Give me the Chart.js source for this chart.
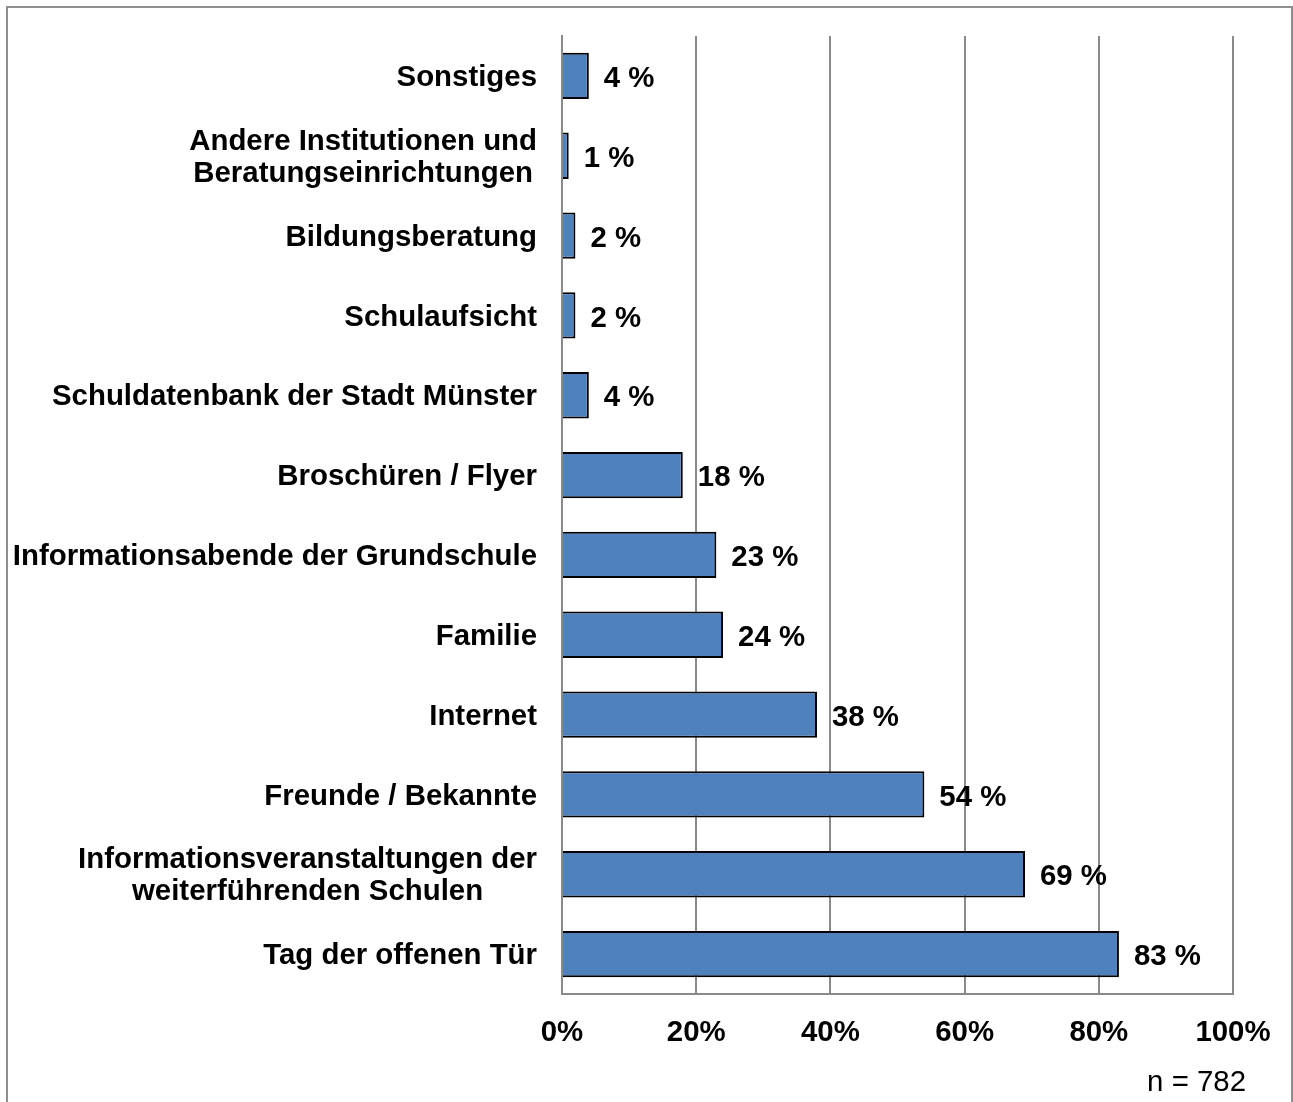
<!DOCTYPE html>
<html lang="de">
<head>
<meta charset="utf-8">
<title>Informationsquellen</title>
<script src="https://cdn.jsdelivr.net/npm/chart.js@4/dist/chart.umd.min.js"></script>
<style>
  html, body { margin: 0; padding: 0; background: #fff; overflow: hidden; }
  #wrap { position: relative; width: 1293px; height: 1102px; }
  #frame {
    position: absolute; left: 6px; top: 6px;
    width: 1283px; height: 1200px;
    border: 2px solid #8e8e8e; box-sizing: content-box;
    pointer-events: none;
  }
  #c { position: absolute; left: 0; top: 0; }
</style>
</head>
<body>
<div id="wrap">
  <div id="frame"></div>
  <canvas id="c" width="1293" height="1102"></canvas>
</div>
<script>
// Categories, top to bottom (multi-line labels as arrays)
const categories = [
  'Sonstiges',
  ['Andere Institutionen und', 'Beratungseinrichtungen'],
  'Bildungsberatung',
  'Schulaufsicht',
  'Schuldatenbank der Stadt Münster',
  'Broschüren / Flyer',
  'Informationsabende der Grundschule',
  'Familie',
  'Internet',
  'Freunde / Bekannte',
  ['Informationsveranstaltungen der', 'weiterführenden Schulen'],
  'Tag der offenen Tür'
];

// Share of respondents in percent
const shares = [4, 1, 2, 2, 4, 18, 23, 24, 38, 54, 69, 83];

// Axis ticks in percent
const axisTicks = [0, 20, 40, 60, 80, 100];

const sampleNote = 'n = 782';

const FONT_FAMILY = '"Liberation Sans", Arial, Helvetica, sans-serif';
const FONT_SIZE = 29.4;
const BOLD_FONT = 'bold ' + FONT_SIZE + 'px ' + FONT_FAMILY;

// Draws category labels (each multi-line label centred on itself),
// value labels beside the bars and the sample size note.
const labelPlugin = {
  id: 'labelPlugin',
  afterDraw(chart) {
    const ctx = chart.ctx;
    const yScale = chart.scales.y;
    const xScale = chart.scales.x;
    const meta = chart.getDatasetMeta(0);
    const labelRight = xScale.left - 25;
    const lineGap = 32;
    const dy = 2;

    ctx.save();
    ctx.fillStyle = '#000';
    ctx.font = BOLD_FONT;
    ctx.textBaseline = 'middle';

    categories.forEach((cat, i) => {
      const yc = yScale.getPixelForValue(i) + dy;
      if (Array.isArray(cat)) {
        const widest = Math.max(...cat.map(t => ctx.measureText(t).width));
        const cx = labelRight - widest / 2;
        ctx.textAlign = 'center';
        const y0 = yc - (cat.length - 1) * lineGap / 2;
        cat.forEach((t, k) => ctx.fillText(t, cx, y0 + k * lineGap));
      } else {
        ctx.textAlign = 'right';
        ctx.fillText(cat, labelRight, yc);
      }
    });

    ctx.textAlign = 'left';
    meta.data.forEach((bar, i) => {
      ctx.fillText(shares[i] + ' %', bar.x + 15, bar.y + dy + 1);
    });

    ctx.font = FONT_SIZE + 'px ' + FONT_FAMILY;
    ctx.textAlign = 'right';
    ctx.fillText(sampleNote, 1246, 1083);
    ctx.restore();
  }
};

new Chart(document.getElementById('c'), {
  type: 'bar',
  data: {
    labels: categories,
    datasets: [{
      data: shares,
      backgroundColor: '#4f81bd',
      borderColor: '#000000',
      borderWidth: 2,
      borderSkipped: 'left',
      barPercentage: 0.58,
      categoryPercentage: 1.0
    }]
  },
  options: {
    indexAxis: 'y',
    responsive: false,
    animation: false,
    devicePixelRatio: 1,
    layout: { padding: { top: 36, right: 60, bottom: 0, left: 0 } },
    plugins: {
      legend: { display: false },
      tooltip: { enabled: false }
    },
    scales: {
      x: {
        type: 'linear',
        min: 0,
        max: 100,
        afterBuildTicks(scale) {
          scale.ticks = axisTicks.map(v => ({ value: v }));
        },
        afterFit(scale) { scale.height = 108; },
        grid: {
          color: '#8a8a8a',
          lineWidth: 2,
          drawTicks: false
        },
        border: { display: true, color: '#8a8a8a', width: 2 },
        ticks: {
          padding: 21,
          color: '#000',
          font: { family: FONT_FAMILY, size: FONT_SIZE, weight: 'bold' },
          callback: v => v + '%'
        }
      },
      y: {
        type: 'category',
        afterFit(scale) { scale.width = 562; },
        grid: { display: false, drawTicks: false },
        border: { display: true, color: '#8a8a8a', width: 2 },
        ticks: { display: false }
      }
    }
  },
  plugins: [labelPlugin]
});
</script>
</body>
</html>
